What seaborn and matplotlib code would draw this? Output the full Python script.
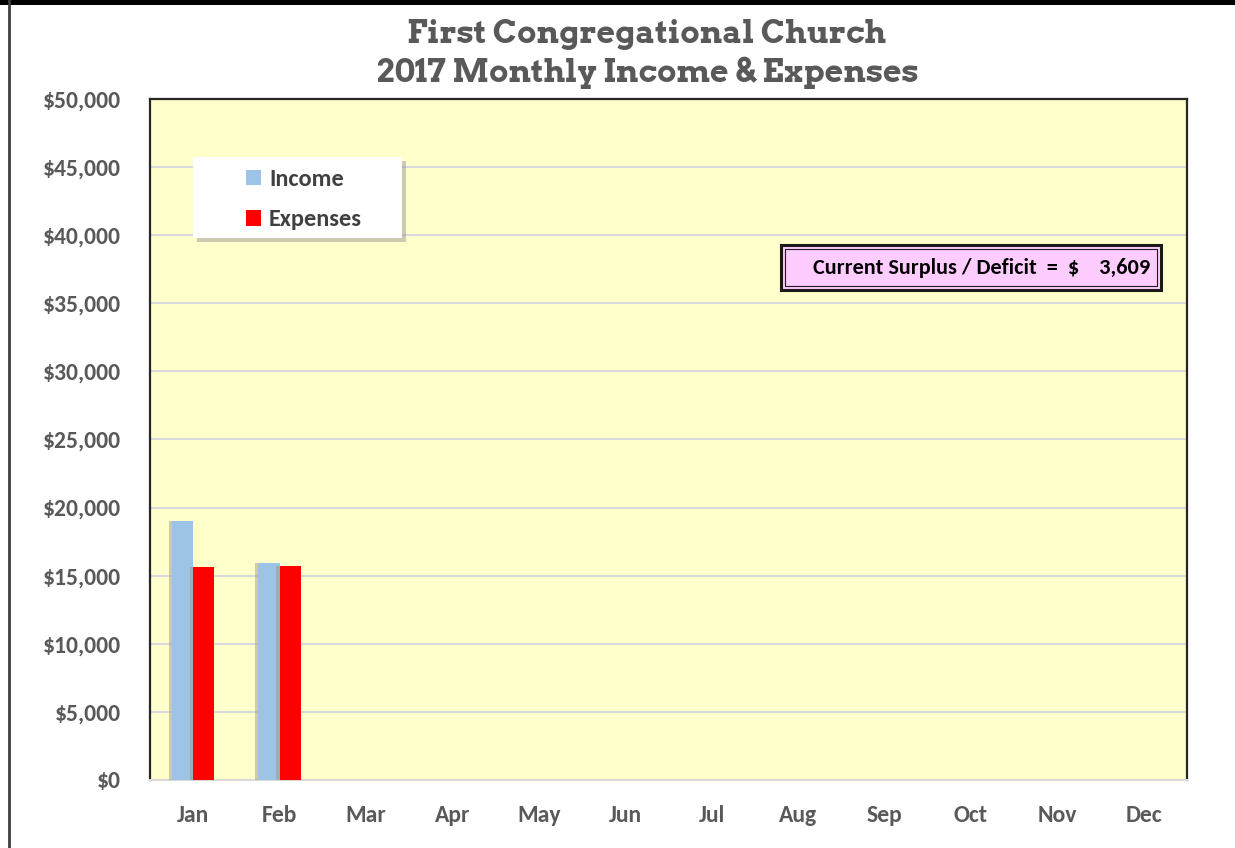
import matplotlib
matplotlib.use("Agg")
import matplotlib.pyplot as plt
import matplotlib.patches as mpatches
import matplotlib.patheffects as pe
from matplotlib.lines import Line2D
import seaborn as sns
import pandas as pd

months = ["Jan", "Feb", "Mar", "Apr", "May", "Jun", "Jul", "Aug", "Sep", "Oct", "Nov", "Dec"]
data_months = ["Jan", "Feb"]
income = [19050, 15900]
expenses = [15630, 15711]
series_names = ["Income", "Expenses"]
series_colors = ["#9DC3E6", "#FF0000"]
y_ticks = [0, 5000, 10000, 15000, 20000, 25000, 30000, 35000, 40000, 45000, 50000]
title_lines = ["First Congregational Church", "2017 Monthly Income & Expenses"]
surplus_label = "Current Surplus / Deficit  =  $    3,609"

df = pd.DataFrame({
    "Month": data_months * 2,
    "Series": [series_names[0]] * len(income) + [series_names[1]] * len(expenses),
    "Amount": income + expenses,
})

SANS = ["Carlito", "Lato", "DejaVu Sans"]
SLAB = ["Arvo", "Roboto Slab", "DejaVu Serif"]
COND = ["Carlito", "Open Sans Condensed", "DejaVu Sans"]

sns.set_theme(style="white")
plt.rcParams["font.family"] = SANS

fig = plt.figure(figsize=(12.35, 8.48), dpi=100)
fig.patch.set_facecolor("white")
ax = fig.add_axes([150 / 1235, 1 - 780 / 848, 1037 / 1235, 681 / 848])
ax.set_facecolor("#FFFFCC")

sns.barplot(data=df, x="Month", y="Amount", hue="Series", order=months,
            hue_order=series_names, palette=series_colors, width=0.49,
            saturation=1, ax=ax, legend=False, zorder=3)
for bar in ax.patches:
    bar.set_linewidth(0)
    bar.set_path_effects([pe.SimplePatchShadow(offset=(-2.5, 0), shadow_rgbFace="#9A9A80", alpha=0.5), pe.Normal()])

ax.set_ylim(0, 50000)
ax.set_xlim(-0.5, 11.5)
ax.set_yticks(y_ticks)
ax.set_yticklabels([f"${v:,.0f}" for v in y_ticks])
ax.yaxis.grid(True, color="#D9D9E0", linewidth=1.5, zorder=0)
ax.set_axisbelow(True)
ax.set_xlabel("")
ax.set_ylabel("")
ax.tick_params(axis="both", length=0, labelsize=17, labelcolor="#595959")
ax.tick_params(axis="y", pad=21)
ax.tick_params(axis="x", pad=18)
for lab in ax.get_xticklabels() + ax.get_yticklabels():
    lab.set_fontweight("bold")
for side in ["left", "top", "right"]:
    ax.spines[side].set_color("#262626")
    ax.spines[side].set_linewidth(1.6)
ax.spines["bottom"].set_color("#D9D9D9")
ax.spines["bottom"].set_linewidth(1.5)

# title
fig.text(647 / 1235, 1 - 35 / 848, title_lines[0], ha="center", va="center",
         fontsize=23, fontweight="bold", family=SLAB, color="#595959")
fig.text(647 / 1235, 1 - 73 / 848, title_lines[1], ha="center", va="center",
         fontsize=23, fontweight="bold", family=SLAB, color="#595959")

def ax_xy(px, py):
    return ((px - 150) / 1037, (780 - py) / 681)

# legend box
lx0, lx1, ly0, ly1 = 193, 402, 157, 238
bx, by = ax_xy(lx0, ly1)
legbox = mpatches.Rectangle((bx, by), (lx1 - lx0) / 1037, (ly1 - ly0) / 681, transform=ax.transAxes,
                            facecolor="white", edgecolor="none", zorder=5)
legbox.set_path_effects([pe.SimplePatchShadow(offset=(3, -3), shadow_rgbFace="#8C8C8C", alpha=0.45), pe.Normal()])
ax.add_patch(legbox)
handles = [mpatches.Patch(facecolor=c, edgecolor="none", label=n) for c, n in zip(series_colors, series_names)]
lx, ly = ax_xy(229, 152)
leg = ax.legend(handles=handles, loc="upper left", bbox_to_anchor=(lx, ly), frameon=False,
                prop={"family": SANS, "size": 17.5, "weight": "bold"},
                handlelength=0.6, handleheight=0.6, handletextpad=0.35,
                labelspacing=0.8, borderpad=0.2)
leg.set_zorder(6)
for t in leg.get_texts():
    t.set_color("#404040")

# surplus box
sx0, sx1, sy0, sy1 = 781, 1161, 245, 290
bx, by = ax_xy(sx0, sy1)
outer = mpatches.Rectangle((bx, by), (sx1 - sx0) / 1037, (sy1 - sy0) / 681, transform=ax.transAxes,
                           facecolor="#FFCCFF", edgecolor="#1A1A1A", linewidth=2.2, zorder=5)
ax.add_patch(outer)
bx2, by2 = ax_xy(sx0 + 4, sy1 - 4)
inner = mpatches.Rectangle((bx2, by2), (sx1 - sx0 - 8) / 1037, (sy1 - sy0 - 8) / 681, transform=ax.transAxes,
                           facecolor="none", edgecolor="#1A1A1A", linewidth=0.8, zorder=6)
ax.add_patch(inner)
tx, ty = ax_xy(1150, 268)
ax.text(tx, ty, surplus_label, transform=ax.transAxes, ha="right", va="center",
        fontsize=16, fontweight="bold", family=COND, color="black", zorder=7)

# figure frame
fig.add_artist(mpatches.Rectangle((0, 1 - 5 / 848), 1, 5 / 848, transform=fig.transFigure,
                                  facecolor="black", edgecolor="none"))
fig.add_artist(Line2D([9 / 1235, 9 / 1235], [0, 1], transform=fig.transFigure,
                      color="#404040", linewidth=2))

fig.savefig("out.png", dpi=100)
